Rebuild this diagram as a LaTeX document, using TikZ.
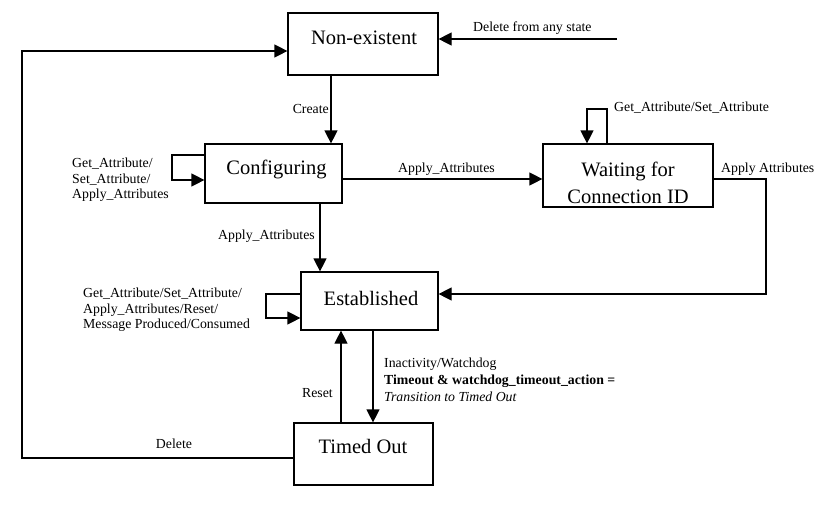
\documentclass[tikz,border=0pt]{standalone}
\usepackage{fontspec}
\setmainfont{Liberation Serif}
\usetikzlibrary{arrows.meta,calc}
\tikzset{
  x=1pt,y=-1pt,
  state/.style={draw,line width=1.2pt,rectangle,inner sep=0pt},
  stext/.style={font=\fontsize{20.5}{27}\selectfont,inner sep=0pt,align=center},
  lbl/.style={font=\fontsize{13.8}{15.6}\selectfont,inner sep=0pt,align=left},
  ln/.style={line width=1.2pt},
  arr/.style={line width=1.2pt,-{Triangle[length=13pt,width=13pt]}},
}
\begin{document}
\begin{tikzpicture}
\useasboundingbox (0,0) rectangle (828,509);
% states
\node[state,minimum width=150,minimum height=62] (ne) at (363,44) {};
\node[stext] (net) at (364,38) {Non-existent};
\node[state,minimum width=137,minimum height=59] (cf) at (273.5,173.5) {};
\node[stext] (cft) at (276.5,169) {Configuring};
\node[state,minimum width=170,minimum height=63] (wt) at (628,175.5) {};
\node[stext] (wtt) at (628,183) {Waiting for\\Connection ID};
\node[state,minimum width=137,minimum height=58] (es) at (369.5,301) {};
\node[stext] (est) at (371,298) {Established};
\node[state,minimum width=139,minimum height=62] (to) at (363.5,454) {};
\node[stext] (tot) at (363,446) {Timed Out};
% connectors
\coordinate (dfa) at (617,39);
\draw[arr] (dfa) -- (ne.east |- dfa);
\coordinate (cL) at (22,458);
\draw[arr] (to.west |- cL) -- (cL) |- (ne.west |- 0,51);
\draw[arr] (ne.south -| 331,0) -- (cf.north -| 331,0);
\draw[arr] (cf.west |- 0,155) -- (172,155) -- (172,180) -- (cf.west |- 0,180);
\draw[arr] (cf.east |- 0,179) -- (wt.west |- 0,179);
\draw[arr] (wt.north -| 607,0) -- (607,109) -- (587,109) -- (wt.north -| 587,0);
\draw[arr] (wt.east |- 0,179) -- (766,179) |- (es.east |- 0,294);
\draw[arr] (cf.south -| 320,0) -- (es.north -| 320,0);
\draw[arr] (es.west |- 0,294) -- (266,294) -- (266,318) -- (es.west |- 0,318);
\draw[arr] (to.north -| 341,0) -- (es.south -| 341,0);
\draw[arr] (es.south -| 373,0) -- (to.north -| 373,0);
% labels
\node[lbl,anchor=west] (l1) at (473,28) {Delete from any state};
\node[lbl,anchor=east] (l2) at (329,109) {Create};
\node[lbl,anchor=west] (l3) at (72,180) {Get\_Attribute/\\Set\_Attribute/\\Apply\_Attributes};
\node[lbl,anchor=west] (l4) at (398,169) {Apply\_Attributes};
\node[lbl,anchor=west] (l5) at (614,108) {Get\_Attribute/Set\_Attribute};
\node[lbl,anchor=west] (l6) at (721,169) {Apply Attributes};
\node[lbl,anchor=east] (l7) at (315,236) {Apply\_Attributes};
\node[lbl,anchor=west] (l8) at (83,310) {Get\_Attribute/Set\_Attribute/\\Apply\_Attributes/Reset/\\Message Produced/Consumed};
\node[lbl,anchor=east] (l9) at (333,393) {Reset};
\node[lbl,anchor=west,font=\fontsize{13.8}{17}\selectfont] (l10) at (384,380) {Inactivity/Watchdog\\\textbf{Timeout \& watchdog\_timeout\_action =}\\\textit{Transition to Timed Out}};
\node[lbl] (l11) at (174,444) {Delete};
\end{tikzpicture}
\end{document}
